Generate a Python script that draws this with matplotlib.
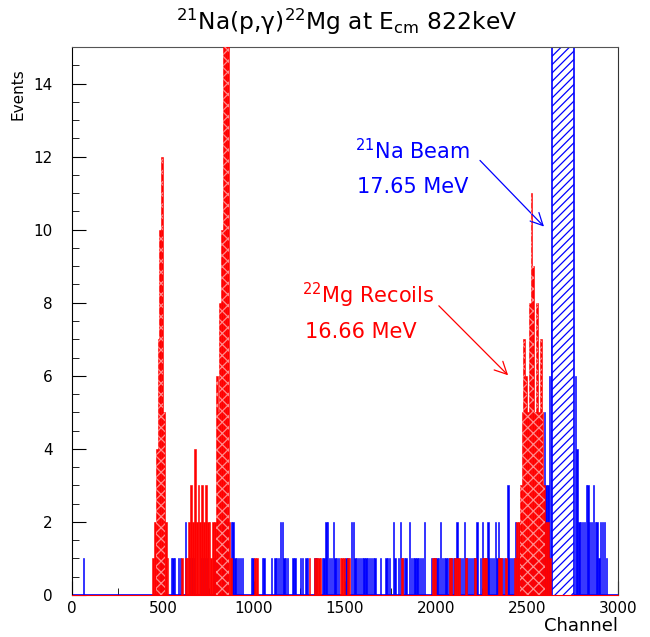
import numpy as np
import matplotlib
matplotlib.use("Agg")
import matplotlib.pyplot as plt
from matplotlib.ticker import MultipleLocator

# channel histogram, 10 channels per bin; (bin low edge, counts), empty bins left out
bin_width = 10
n_channels = 3000
y_top = 15

# all events (blue)
blue_noise = [
    (60, 1), (480, 1), (490, 1), (540, 1), (550, 1), (560, 1), (580, 1), (590, 1),
    (620, 2), (640, 1), (650, 1), (660, 1), (700, 1), (720, 1), (740, 1), (780, 1),
    (800, 1), (820, 2), (830, 2), (840, 3), (850, 2), (870, 2), (880, 2), (890, 1),
    (900, 1), (910, 1), (920, 1), (930, 1), (980, 1), (990, 1),
    (1040, 1), (1050, 1), (1090, 1), (1110, 1), (1120, 1), (1130, 1), (1140, 2), (1150, 2),
    (1160, 1), (1170, 1), (1180, 1), (1210, 1), (1220, 1), (1250, 1), (1260, 1), (1280, 1),
    (1290, 1), (1330, 1), (1340, 1), (1370, 1), (1380, 1), (1390, 2), (1400, 2), (1410, 1),
    (1420, 1), (1430, 2), (1440, 1), (1450, 1), (1460, 1), (1500, 1), (1510, 1), (1530, 2),
    (1540, 2), (1550, 1), (1560, 1), (1570, 1), (1580, 1), (1590, 1), (1600, 1), (1610, 1),
    (1620, 1), (1630, 1), (1640, 1), (1650, 1), (1660, 1), (1690, 1), (1720, 1), (1730, 1),
    (1740, 1), (1760, 2), (1770, 1), (1790, 1), (1800, 2), (1810, 1), (1820, 1), (1830, 1),
    (1850, 2), (1860, 1), (1870, 1), (1880, 1), (1890, 1), (1900, 1), (1910, 1), (1920, 1),
    (1930, 2), (1970, 1), (1980, 1), (1990, 1), (2000, 1), (2010, 1), (2020, 2), (2030, 1),
    (2040, 1), (2050, 1), (2060, 1), (2070, 1), (2080, 1), (2090, 1), (2100, 1), (2110, 2),
    (2120, 1), (2130, 1), (2140, 1), (2150, 2), (2160, 1), (2170, 1), (2180, 1), (2190, 1),
    (2200, 1), (2210, 1), (2220, 2), (2240, 1), (2250, 2), (2260, 1), (2270, 1), (2280, 2),
    (2290, 1), (2300, 1), (2310, 1), (2320, 2), (2330, 1), (2340, 2), (2350, 1), (2360, 1),
    (2370, 1), (2390, 3), (2400, 1), (2410, 1), (2420, 1), (2430, 2), (2440, 1), (2450, 1),
    (2460, 1), (2470, 1), (2480, 1), (2490, 1), (2500, 1), (2510, 1), (2520, 1), (2530, 1),
    (2540, 1), (2550, 1), (2560, 1), (2570, 1), (2580, 2), (2590, 5), (2600, 3), (2610, 3),
    (2620, 6), (2630, 8),
    (2760, 6), (2770, 4), (2780, 2), (2790, 2), (2800, 2), (2810, 2), (2820, 3), (2830, 3),
    (2840, 2), (2850, 2), (2860, 3), (2870, 2), (2880, 2), (2890, 1), (2900, 2), (2910, 2),
    (2920, 2), (2930, 1),
]
blue_beam = [
    (2640, 40), (2650, 70), (2660, 110), (2670, 150), (2680, 180), (2690, 190),
    (2700, 170), (2710, 140), (2720, 100), (2730, 70), (2740, 45), (2750, 25),
]

# 22Mg recoils (red)
red_peak1 = [(440, 1), (450, 2), (460, 4), (470, 7), (480, 10), (490, 12), (500, 5), (510, 2), (520, 1)]
red_mid = [
    (600, 1), (620, 1), (630, 1), (640, 2), (650, 3), (660, 2), (670, 4), (680, 2),
    (690, 3), (700, 2), (710, 3), (720, 2), (730, 3), (740, 2), (750, 2), (760, 1),
    (770, 2), (780, 2),
]
red_peak2 = [(790, 6), (800, 5), (810, 8), (820, 10), (830, 18), (840, 30), (850, 16), (860, 2), (870, 1)]
red_noise = [
    (1000, 1), (1010, 1), (1300, 1), (1330, 1), (1340, 1), (1350, 1), (1360, 1), (1470, 1),
    (1480, 1), (1490, 1), (1510, 1), (1520, 1), (1810, 1), (1980, 1), (1990, 1), (2070, 1),
    (2080, 1), (2100, 1), (2110, 1), (2120, 1), (2160, 1), (2210, 1), (2250, 1), (2260, 1),
    (2270, 1), (2340, 1), (2350, 1), (2380, 1),
]
red_peak3 = [
    (2430, 1), (2440, 2), (2450, 2), (2460, 3), (2470, 5), (2480, 7), (2490, 6), (2500, 5),
    (2510, 8), (2520, 11), (2530, 9), (2540, 5), (2550, 8), (2560, 5), (2570, 7), (2580, 5),
    (2590, 3), (2600, 2), (2610, 2), (2620, 1),
]

edges = np.arange(0, n_channels + bin_width, bin_width)


def to_counts(pairs):
    h = np.zeros(len(edges) - 1)
    for ch, n in pairs:
        h[ch // bin_width] += n
    return h


def plot():
    plt.rcParams["hatch.linewidth"] = 0.9
    blue = to_counts(blue_noise + blue_beam)
    red = to_counts(red_peak1 + red_mid + red_peak2 + red_noise + red_peak3)
    peaks = to_counts(red_peak1 + red_peak2 + red_peak3)
    lefts = edges[:-1]

    fig = plt.figure(figsize=(6.5, 6.37), dpi=100)
    ax = fig.add_axes([72 / 650, 1 - 595 / 637, 546 / 650, 548 / 637])

    # blue: thin solid bins, hatched where the beam runs off scale
    low = (blue > 0) & (blue <= y_top)
    ax.bar(lefts[low] + 1.5, blue[low], width=bin_width - 3, align="edge",
           color="blue", edgecolor="blue", linewidth=0.4, zorder=2)
    ax.stairs(np.where(blue > y_top, blue, 0), edges, fill=True, facecolor="white",
              edgecolor="blue", hatch="////", linewidth=1.2, zorder=2)

    # red on top; faint crosshatch only shows inside the peaks
    on = red > 0
    ax.bar(lefts[on], red[on], width=bin_width, align="edge",
           color="red", edgecolor="red", linewidth=0.4, zorder=3)
    ax.stairs(np.where(peaks > 2, peaks, 0), edges, fill=True, facecolor="none",
              edgecolor="#ff8a8a", hatch="xxx", linewidth=0, zorder=3.5)

    ax.set_xlim(0, 3000)
    ax.set_ylim(0, y_top)
    ax.xaxis.set_major_locator(MultipleLocator(500))
    ax.xaxis.set_minor_locator(MultipleLocator(250))
    ax.yaxis.set_major_locator(MultipleLocator(2))
    ax.yaxis.set_minor_locator(MultipleLocator(0.5))
    ax.tick_params(which="both", direction="in", top=False, right=False, labelsize=11)
    ax.tick_params(which="major", length=10)
    ax.tick_params(which="minor", length=5)
    ax.tick_params(axis="y", which="major", pad=14)
    ax.tick_params(axis="x", which="major", pad=4)
    ax.spines["bottom"].set_color("red")
    ax.spines["bottom"].set_zorder(4)
    ax.spines["top"].set_color("#555555")
    ax.spines["right"].set_color("#333333")

    ax.set_xlabel("Channel", fontsize=13, loc="right")
    ax.set_ylabel("Events", fontsize=11, loc="top")
    ax.xaxis.set_label_coords(1.0, -0.04)
    ax.yaxis.set_label_coords(-0.085, 0.962)

    fig.text(0.533, 0.965, "$^{21}$Na(p,γ)$^{22}$Mg at E$_{\\rm cm}$ 822keV",
             fontsize=16.8, ha="center", va="center")

    ax.text(1555, 12.17, "$^{21}$Na Beam", color="blue", fontsize=15, va="center")
    ax.text(1566, 11.18, "17.65 MeV", color="blue", fontsize=15, va="center")
    ax.annotate("", xy=(2604, 10.03), xytext=(2231, 11.95),
                arrowprops=dict(arrowstyle="->", color="blue", lw=0.9, mutation_scale=22))

    ax.text(1264, 8.19, "$^{22}$Mg Recoils", color="red", fontsize=15, va="center")
    ax.text(1280, 7.2, "16.66 MeV", color="red", fontsize=15, va="center")
    ax.annotate("", xy=(2407, 5.96), xytext=(2005, 7.97),
                arrowprops=dict(arrowstyle="->", color="red", lw=0.9, mutation_scale=22))

    fig.savefig("out.png", dpi=100)


if __name__ == "__main__":
    plot()
